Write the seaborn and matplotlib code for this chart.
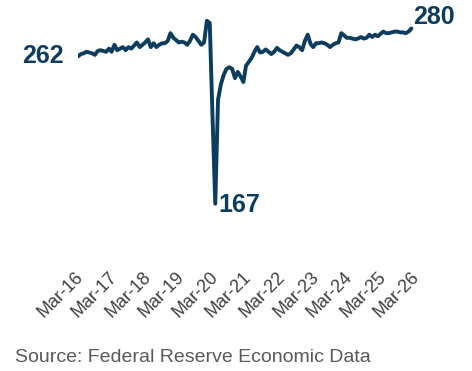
import matplotlib
matplotlib.use("Agg")
import matplotlib.pyplot as plt
import matplotlib.transforms as mtransforms
import seaborn as sns
import pandas as pd
import numpy as np

# ---- data (monthly, Mar 2016 - Feb 2026) ----
start_month = "2016-03-01"
values = [
    262, 263.5, 264, 265, 264.5, 264, 263, 265.5, 266, 265.5,
    265, 267, 265, 269.5, 266, 267, 268, 266, 268, 267,
    269, 271, 268, 269.5, 271, 273, 268, 270.5, 268, 269.5,
    270.5, 270.5, 272, 277, 274, 272.5, 271, 271.5, 271, 269.5,
    272, 276, 274.5, 272, 269.5, 271, 285, 283.5, 225, 167,
    234, 244, 250, 254, 255, 254, 248, 252, 249, 245.5,
    256, 258.5, 261, 265, 268, 264.5, 265, 266.5, 265, 263.5,
    265, 267.5, 266, 265, 264, 263, 264, 266.5, 269, 268,
    266, 272, 276, 270, 268, 270.5, 270.5, 271, 270.5, 269.5,
    268, 269.5, 270.5, 271, 277, 275.5, 274, 274, 273.5, 273,
    273.5, 274.5, 273.5, 274, 276, 274.5, 276, 275, 276.5, 278,
    277, 277, 277.5, 278, 278, 277.5, 277.5, 277, 278, 280,
]
tick_labels = ["Mar-16", "Mar-17", "Mar-18", "Mar-19", "Mar-20", "Mar-21",
               "Mar-22", "Mar-23", "Mar-24", "Mar-25", "Mar-26"]
first_label = "262"
min_label = "167"
last_label = "280"
source_text = "Source: Federal Reserve Economic Data"

dates = pd.date_range(start_month, periods=len(values), freq="MS")
df = pd.DataFrame({"date": dates, "value": values})

navy = "#0C3C5E"
sns.set_theme(style="white")
plt.rcParams["font.family"] = ["Liberation Sans", "DejaVu Sans"]

fig = plt.figure(figsize=(4.72, 3.71), dpi=100)
ax = fig.add_axes([78 / 472, 1 - 268 / 371, (414 - 78) / 472, 255 / 371])

sns.lineplot(data=df, x="date", y="value", ax=ax, color=navy, linewidth=2.8,
             solid_joinstyle="round", solid_capstyle="round")

ax.set_xlim(pd.Timestamp("2016-03-01"), pd.Timestamp("2026-03-01"))
ax.set_ylim(125.5, 290)
tick_dates = pd.date_range("2016-03-01", periods=len(tick_labels), freq="12MS")
ax.set_xticks(tick_dates)
ax.set_xticklabels(tick_labels, rotation=45, ha="right", va="center",
                   rotation_mode="anchor", fontsize=13, color="#404040")
ax.tick_params(axis="x", length=0, pad=5)
shift = mtransforms.ScaledTranslation(3 / 100, 0, fig.dpi_scale_trans)
for lbl in ax.get_xticklabels():
    lbl.set_transform(lbl.get_transform() + shift)
ax.set_yticks([])
ax.set_xlabel("")
ax.set_ylabel("")
for s in ax.spines.values():
    s.set_visible(False)

# annotations
imin = int(np.argmin(values))
ax.annotate(first_label, (dates[0], values[0]), xytext=(-10, 0),
            textcoords="offset points", ha="right", va="center",
            fontsize=18, fontweight="bold", color=navy)
ax.annotate(min_label, (dates[imin], values[imin]), xytext=(2, -1),
            textcoords="offset points", ha="left", va="center",
            fontsize=18, fontweight="bold", color=navy)
ax.annotate(last_label, (dates[-1], values[-1]), xytext=(1, 8),
            textcoords="offset points", ha="left", va="center",
            fontsize=18, fontweight="bold", color=navy)

fig.text(15 / 472, 1 - 362 / 371, source_text, fontsize=14, color="#595959",
         ha="left", va="baseline")

fig.savefig("out.png", dpi=100)
